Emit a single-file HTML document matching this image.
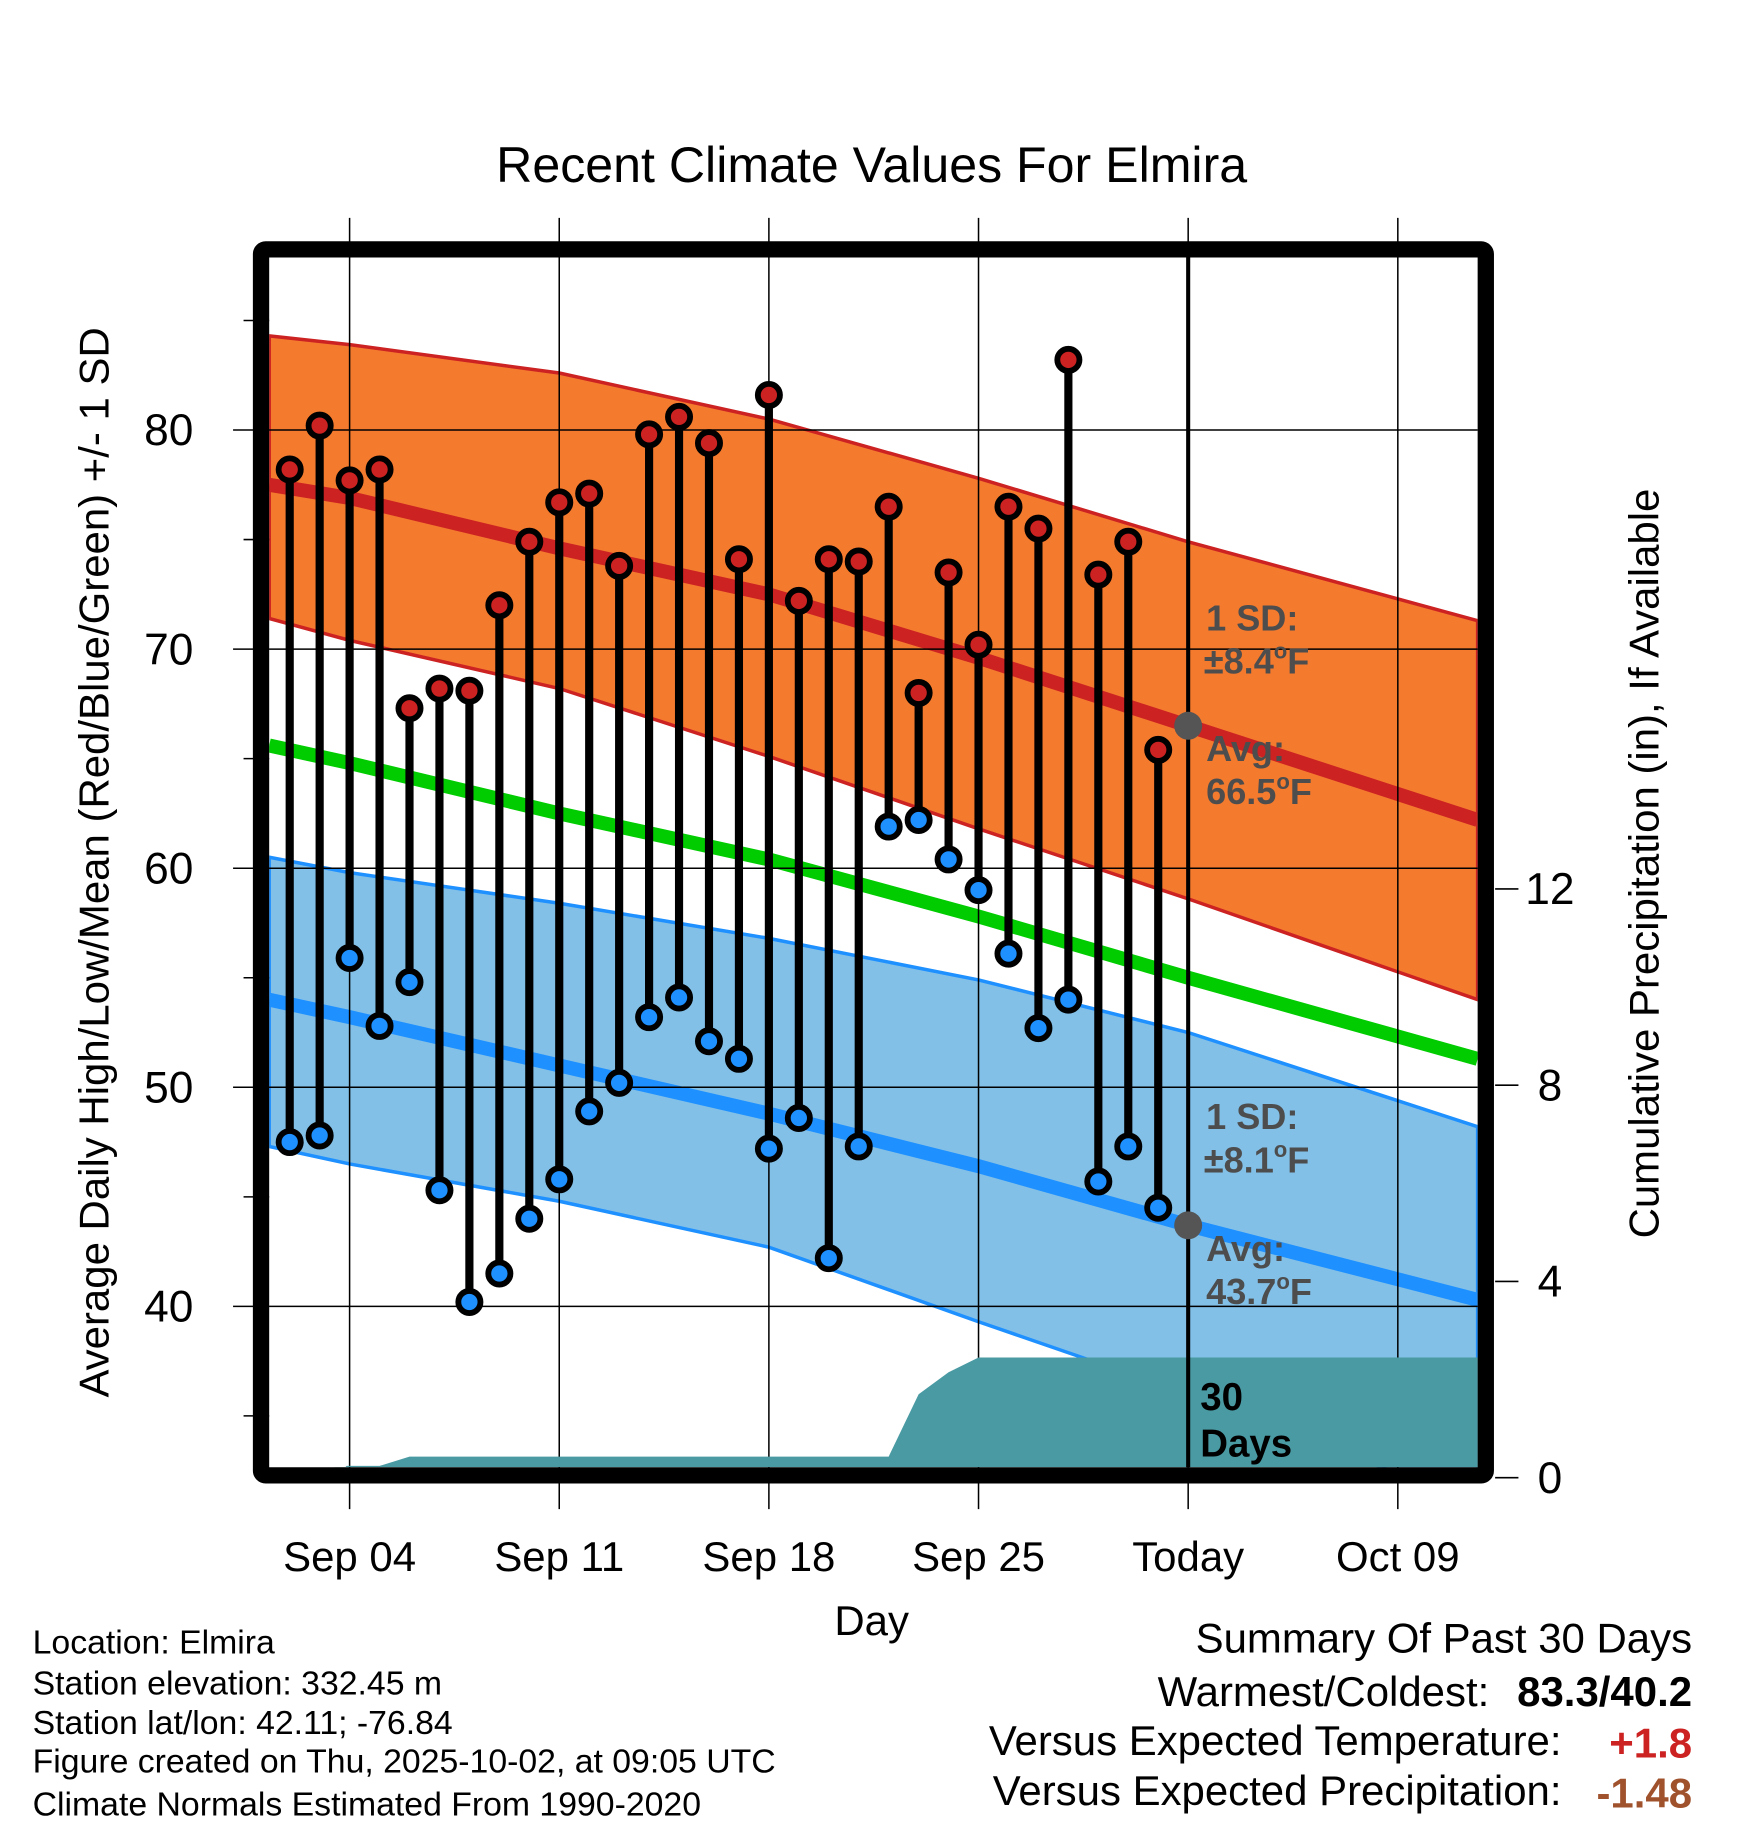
<!DOCTYPE html>
<html><head><meta charset="utf-8"><style>
html,body{margin:0;padding:0;background:#fff}
svg{display:block;font-family:"Liberation Sans",Arial,sans-serif}
</style></head><body>
<svg id="chart" xmlns="http://www.w3.org/2000/svg" width="1748" height="1828" viewBox="0 0 1500 1568.6" preserveAspectRatio="none">
<g id="bands"></g>
<g id="grid"></g>
<g id="precip"></g>
<g id="stems"></g>
<g id="frame"></g>
<g id="labels"></g>
</svg>
<script>
// ---- data ----
const dayLabels = ["Sep 04","Sep 11","Sep 18","Sep 25","Today","Oct 09"];
const dayLabelOffsets = [0,7,14,21,28,35];
const yTicks = [40,50,60,70,80];
const precipTicks = [0,4,8,12];
// daily observations, Sep 02 .. Oct 01 (day offset from Sep 04)
const obsDays = [-2,-1,0,1,2,3,4,5,6,7,8,9,10,11,12,13,14,15,16,17,18,19,20,21,22,23,24,25,26,27];
const highs = [78.2,80.2,77.7,78.2,67.3,68.2,68.1,72.0,74.9,76.7,77.1,73.8,79.8,80.6,79.4,74.1,81.6,72.2,74.1,74.0,76.5,68.0,73.5,70.2,76.5,75.5,83.2,73.4,74.9,65.4];
const lows = [47.5,47.8,55.9,52.8,54.8,45.3,40.2,41.5,44.0,45.8,48.9,50.2,53.2,54.1,52.1,51.3,47.2,48.6,42.2,47.3,61.9,62.2,60.4,59.0,56.1,52.7,54.0,45.7,47.3,44.5];
const precipDays = [-0.5,-0.1,1,2,18,19,20,21,27,37.7];
const precipCum = [0,0.24,0.24,0.43,0.43,1.7,2.15,2.45,2.45,2.45];
// normals
const normDays = [-2.7,0,7,14,21,28,37.7];
const hiUpper = [84.3,83.9,82.6,80.5,77.8,74.9,71.3];
const hiMean = [77.5,76.9,74.6,72.5,69.6,66.5,62.2];
const hiLower = [71.4,70.4,68.2,65.1,61.8,58.6,54.0];
const meanT = [65.6,64.8,62.5,60.4,57.8,55.0,51.3];
const loUpper = [60.5,59.8,58.4,56.8,54.9,52.5,48.2];
const loMean = [54.0,53.2,51.0,48.8,46.4,43.7,40.3];
const loLower = [47.3,46.5,44.8,42.7,39.3,36.0,31.0];
const todayDay = 28;

// ---- scales ----
const L=231,R=1268,T=221,B=1259;
const X = d => 300 + d*25.7;
const Y = v => 369 + (80 - v)*18.8;
const P = p => 1268 - p*42.1;
const NS="http://www.w3.org/2000/svg";
function mk(parent,tag,attrs){const e=document.createElementNS(NS,tag);for(const k in attrs)e.setAttribute(k,attrs[k]);document.getElementById(parent).appendChild(e);return e;}
function txt(parent,s,attrs){const e=mk(parent,'text',attrs);e.textContent=s;return e;}
function pts(days,vals){return days.map((d,i)=>Math.min(R,Math.max(L,X(d))).toFixed(1)+','+Y(vals[i]).toFixed(1));}

// clip
const defs=mk('chart','defs',{});
const cp=document.createElementNS(NS,'clipPath');cp.setAttribute('id','pc');defs.appendChild(cp);
const cr=document.createElementNS(NS,'rect');cr.setAttribute('x',L);cr.setAttribute('y',T);cr.setAttribute('width',R-L);cr.setAttribute('height',B-T);cp.appendChild(cr);
document.getElementById('bands').setAttribute('clip-path','url(#pc)');
document.getElementById('precip').setAttribute('clip-path','url(#pc)');

// bands
let e;
e=mk('bands','polygon',{points:pts(normDays,hiUpper).concat(pts(normDays,hiLower).reverse()).join(' '),fill:'#f47a2e',stroke:'#cc2222','stroke-width':3});

e=mk('bands','polygon',{points:pts(normDays,loUpper).concat(pts(normDays,loLower).reverse()).join(' '),fill:'#82c0e8',stroke:'#1e90ff','stroke-width':3});

e=mk('bands','polyline',{points:pts(normDays,hiMean).join(' '),fill:'none',stroke:'#cc2222','stroke-width':12});

e=mk('bands','polyline',{points:pts(normDays,meanT).join(' '),fill:'none',stroke:'#00cc00','stroke-width':12});

e=mk('bands','polyline',{points:pts(normDays,loMean).join(' '),fill:'none',stroke:'#1e90ff','stroke-width':12});


// grid
dayLabelOffsets.forEach((d,i)=>{
  e=mk('grid','line',{x1:X(d),x2:X(d),y1:187,y2:1295,stroke:'#000','stroke-width':1.3});
  
  e=txt('labels',dayLabels[i],{x:X(d),y:1348,'font-size':36,'text-anchor':'middle'});
  
});
for(let v=35;v<=85;v+=5){
  const major=v%10===0;
  mk('grid','line',{x1:major?200:209,x2:L,y1:Y(v),y2:Y(v),stroke:'#000','stroke-width':1.3});
  if(major){
    e=mk('grid','line',{x1:L,x2:R,y1:Y(v),y2:Y(v),stroke:'#000','stroke-width':1.3});
    
  }
}
yTicks.forEach(v=>{
  e=txt('labels',String(v),{x:166,y:Y(v)+13,'font-size':38,'text-anchor':'end'});
  
});
precipTicks.forEach(p=>{
  mk('grid','line',{x1:1283,x2:1303,y1:P(p),y2:P(p),stroke:'#000','stroke-width':1.3});
  e=txt('labels',String(p),{x:1330,y:P(p)+13,'font-size':38,'text-anchor':'middle'});
  
});

// precip area
{
  const pp=precipDays.map((d,i)=>Math.min(R,X(d)).toFixed(1)+','+P(precipCum[i]).toFixed(1));
  pp.push(R+','+B);pp.unshift(X(precipDays[0]).toFixed(1)+','+B);
  e=mk('precip','polygon',{points:pp.join(' '),fill:'#4a9aa3'});
  
}

// today line
e=mk('stems','line',{x1:X(todayDay),x2:X(todayDay),y1:T,y2:B,stroke:'#000','stroke-width':3.5});

e=mk('stems','circle',{cx:X(todayDay),cy:Y(hiMean[5]),r:12,fill:'#555'});

e=mk('stems','circle',{cx:X(todayDay),cy:Y(loMean[5]),r:12,fill:'#555'});


// stems
obsDays.forEach((d,i)=>{
  const x=X(d);
  e=mk('stems','line',{x1:x,x2:x,y1:Y(highs[i]),y2:Y(lows[i]),stroke:'#000','stroke-width':7});
  
  e=mk('stems','circle',{cx:x,cy:Y(highs[i]),r:9.5,fill:'#cc2222',stroke:'#000','stroke-width':5});
  
  e=mk('stems','circle',{cx:x,cy:Y(lows[i]),r:9.5,fill:'#1e90ff',stroke:'#000','stroke-width':5});
  
});

// frame
e=mk('frame','rect',{x:224,y:214,width:1051,height:1052,rx:4,fill:'none',stroke:'#000','stroke-width':14});

</script>
<script>
(function(){
const NS="http://www.w3.org/2000/svg";
const g=document.getElementById('labels');
function t(s,a,name){const e=document.createElementNS(NS,'text');for(const k in a)e.setAttribute(k,a[k]);e.innerHTML=s;


g.appendChild(e);}
t('Recent Climate Values For Elmira',{x:748,y:156,'font-size':43,'text-anchor':'middle'},'chart-title');
t('Day',{x:748,y:1403,'font-size':36,'text-anchor':'middle'},'x-axis-title');
t('Average Daily High/Low/Mean (Red/Blue/Green) +/- 1 SD',{x:0,y:0,'font-size':36,'text-anchor':'middle',transform:'translate(93,740) rotate(-90)'},'y-axis-title');
t('Cumulative Precipitation (in), If Available',{x:0,y:0,'font-size':36,'text-anchor':'middle',transform:'translate(1423,741) rotate(-90)'},'right-axis-title');
const ann={'font-size':31,'font-weight':'bold',fill:'#4d4d4d'};
t('1 SD:',Object.assign({x:1035,y:541},ann),'high-sd-label');
t('±8.4<tspan font-size="19" dy="-13">o</tspan><tspan dy="13">F</tspan>',Object.assign({x:1033,y:578},ann),'high-sd-value');
t('Avg:',Object.assign({x:1035,y:653},ann),'high-avg-label');
t('66.5<tspan font-size="19" dy="-13">o</tspan><tspan dy="13">F</tspan>',Object.assign({x:1035,y:690},ann),'high-avg-value');
t('1 SD:',Object.assign({x:1035,y:969},ann),'low-sd-label');
t('±8.1<tspan font-size="19" dy="-13">o</tspan><tspan dy="13">F</tspan>',Object.assign({x:1033,y:1006},ann),'low-sd-value');
t('Avg:',Object.assign({x:1035,y:1082},ann),'low-avg-label');
t('43.7<tspan font-size="19" dy="-13">o</tspan><tspan dy="13">F</tspan>',Object.assign({x:1035,y:1119},ann),'low-avg-value');
t('30',{x:1030,y:1210,'font-size':33,'font-weight':'bold'},'days-count-label');
t('Days',{x:1030,y:1250,'font-size':33,'font-weight':'bold'},'days-label');
const info=['Location: Elmira','Station elevation: 332.45 m','Station lat/lon: 42.11; -76.84','Figure created on Thu, 2025-10-02, at 09:05 UTC','Climate Normals Estimated From 1990-2020'];
const iy=[1419,1454,1488,1521,1558];
info.forEach((s,i)=>t(s,{x:28,y:iy[i],'font-size':29},'station-info-line'));
t('Summary Of Past 30 Days',{x:1452,y:1418,'font-size':36,'text-anchor':'end'},'summary-title');
t('Warmest/Coldest:',{x:1278,y:1464,'font-size':36,'text-anchor':'end'},'warmest-coldest-label');
t('83.3/40.2',{x:1452,y:1464,'font-size':36,'font-weight':'bold','text-anchor':'end'},'warmest-coldest-value');
t('Versus Expected Temperature:',{x:1340,y:1506,'font-size':36,'text-anchor':'end'},'temp-departure-label');
t('+1.8',{x:1452,y:1508,'font-size':36,'font-weight':'bold','text-anchor':'end',fill:'#cc2222'},'temp-departure-value');
t('Versus Expected Precipitation:',{x:1340,y:1549,'font-size':36,'text-anchor':'end'},'precip-departure-label');
t('-1.48',{x:1452,y:1551,'font-size':36,'font-weight':'bold','text-anchor':'end',fill:'#a0522d'},'precip-departure-value');
})();
</script>
</body></html>
